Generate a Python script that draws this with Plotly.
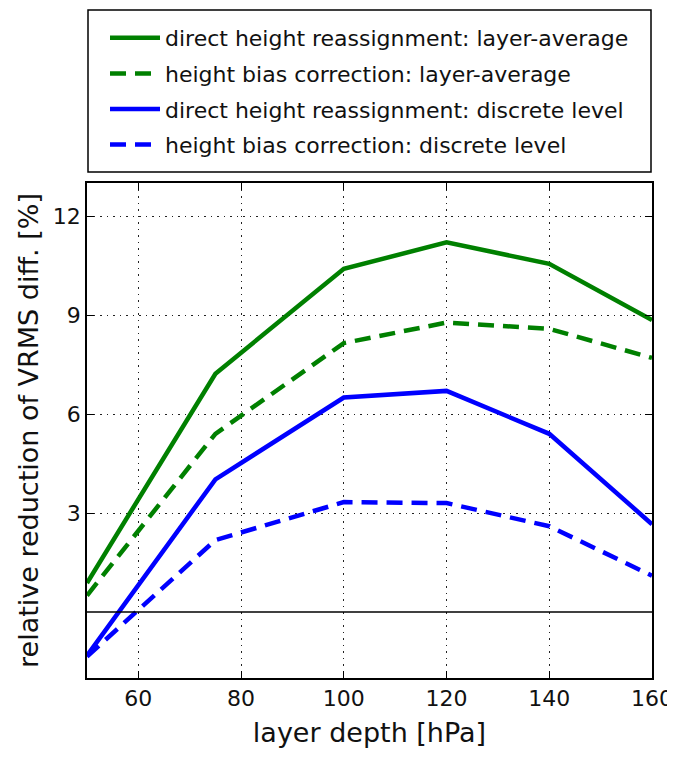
import plotly.graph_objects as go

layer_depth = [50, 75, 100, 120, 140, 160]
direct_layer_avg = [0.88, 7.22, 10.4, 11.2, 10.55, 8.85]
bias_layer_avg = [0.5, 5.4, 8.15, 8.77, 8.58, 7.7]
direct_discrete = [-1.32, 4.02, 6.5, 6.7, 5.4, 2.66]
bias_discrete = [-1.35, 2.18, 3.33, 3.3, 2.6, 1.1]

series_names = [
    "direct height reassignment: layer-average",
    "height bias correction: layer-average",
    "direct height reassignment: discrete level",
    "height bias correction: discrete level",
]
series_values = [direct_layer_avg, bias_layer_avg, direct_discrete, bias_discrete]
series_colors = ["#008000", "#008000", "#0000ff", "#0000ff"]
series_dash = ["solid", "16px,9px", "solid", "16px,9px"]

x_ticks = [60, 80, 100, 120, 140, 160]
y_ticks = [3, 6, 9, 12]

FONT = "DejaVu Sans"

# the page body adds an 8px margin; the figure is sized so the page does not scroll
W, H = 667, 740
ML, MR, MT, MB = 79, 23, 175, 70
PW, PH = W - ML - MR, H - MT - MB

fig = go.Figure()
for i, (name, vals, col, dash) in enumerate(zip(series_names, series_values, series_colors, series_dash)):
    fig.add_trace(go.Scatter(
        x=layer_depth, y=vals, mode="lines", name=name,
        legendgroup=f"g{i}",
        line=dict(color=col, width=4.5, dash=dash),
    ))

# zero line
fig.add_hline(y=0, line=dict(color="black", width=1.5))

# legend frame
fig.add_shape(type="rect", xref="paper", yref="paper",
              x0=(80 - ML) / PW, x1=(643 - ML) / PW,
              y0=1 + (MT - 164) / PH, y1=1 + (MT - 2) / PH,
              line=dict(color="black", width=1.5), fillcolor="white", layer="below")

fig.update_layout(
    width=W, height=H,
    margin=dict(l=ML, r=MR, t=MT, b=MB, autoexpand=False),
    paper_bgcolor="white", plot_bgcolor="white",
    font=dict(family=FONT, color="black", size=22),
    showlegend=True,
    legend=dict(
        x=(97 - ML) / PW, y=1 + (MT - 9) / PH, xanchor="left", yanchor="top",
        bgcolor="rgba(0,0,0,0)", borderwidth=0,
        font=dict(family=FONT, size=22, color="#111"),
        tracegroupgap=4, itemwidth=50,
    ),
    xaxis=dict(
        range=[50, 160], tickvals=x_ticks,
        showgrid=True, gridcolor="#222", griddash="1.5px,5px", gridwidth=1,
        showline=True, linecolor="black", linewidth=1.5, mirror="ticks",
        ticks="inside", ticklen=7, tickcolor="black",
        tickfont=dict(size=22, color="#111"), zeroline=False,
        ticklabeloverflow="allow",
        title=dict(text="layer depth [hPa]", font=dict(size=27, color="#111"), standoff=13),
    ),
    yaxis=dict(
        range=[-2, 13], tickvals=y_ticks,
        showgrid=True, gridcolor="#222", griddash="1.5px,5px", gridwidth=1,
        showline=True, linecolor="black", linewidth=1.5, mirror="ticks",
        ticks="inside", ticklen=7, tickcolor="black",
        tickfont=dict(size=22, color="#111"), zeroline=False,
        title=dict(text="relative reduction of VRMS diff. [%]", font=dict(size=27, color="#111"), standoff=6),
    ),
)

fig.write_html("out.html")
